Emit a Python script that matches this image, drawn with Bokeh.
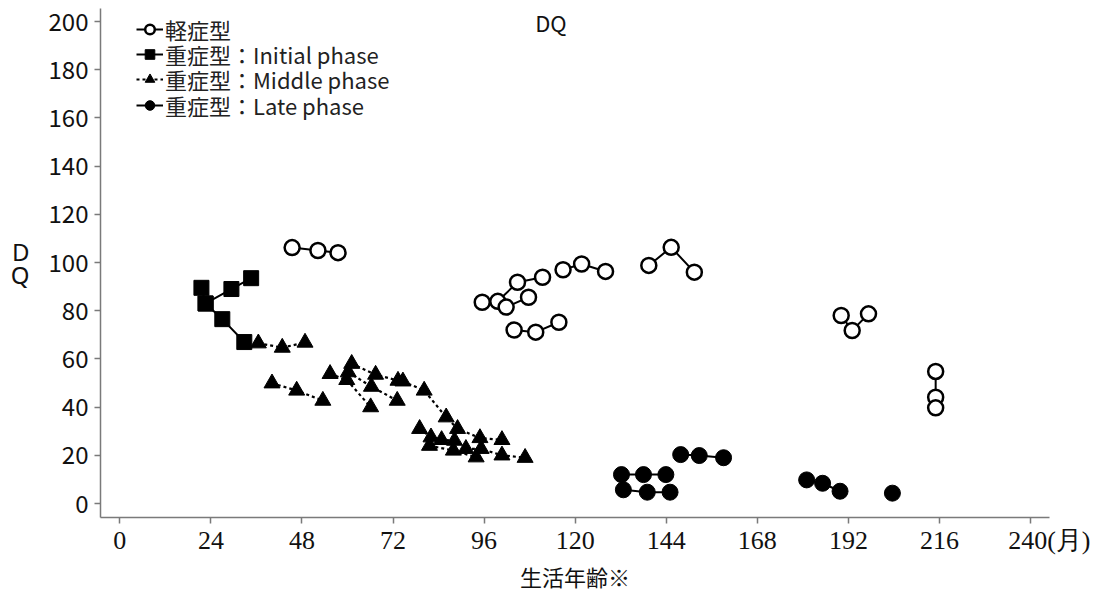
from bokeh.plotting import figure
from bokeh.models import Legend, LegendItem, Label, FixedTicker, Range1d
from bokeh.embed import file_html
from bokeh.resources import INLINE

FONT = "Noto Sans CJK JP"
NARROW = "Liberation Sans Narrow"

x_ticks = [0, 24, 48, 72, 96, 120, 144, 168, 192, 216, 240]
y_ticks = [0, 20, 40, 60, 80, 100, 120, 140, 160, 180, 200]
legend_labels = ["軽症型", "重症型：Initial phase", "重症型：Middle phase",
                 "重症型：Late phase"]

# 軽症型 (mild) – each list is one patient
mild_x = [
    [45.4, 52.2, 57.5],
    [95.5, 99.6, 104.8, 111.4],
    [101.8, 107.7],
    [116.8, 121.7, 128.0],
    [139.4, 145.3, 151.4],
    [103.9, 109.6, 115.7],
    [190.1, 193.0, 197.3],
    [215.0, 215.0, 215.0],
]
mild_y = [
    [106.2, 105.0, 104.1],
    [83.5, 83.9, 91.8, 93.9],
    [81.5, 85.6],
    [97.0, 99.4, 96.3],
    [98.8, 106.3, 96.0],
    [72.0, 71.1, 75.2],
    [78.0, 71.8, 78.7],
    [54.8, 44.1, 39.7],
]

# 重症型 Initial phase
init_x = [[21.5, 22.6, 27.0, 32.8], [22.6, 29.4, 34.6]]
init_y = [[89.5, 83.0, 76.5, 67.0], [83.0, 89.0, 93.5]]

# 重症型 Middle phase
mid_x = [
    [36.5, 42.8, 48.8],
    [40.1, 46.6, 53.5],
    [61.1, 67.4, 73.3],
    [60.2, 66.3, 73.1],
    [55.4, 59.8, 66.1],
    [74.6, 80.2, 86.0, 89.0, 94.9, 100.7],
    [79.0, 82.0, 84.8, 88.2],
    [81.6, 87.9, 93.9],
    [91.2, 95.2, 100.7, 106.8],
]
mid_y = [
    [66.5, 64.7, 66.8],
    [49.9, 46.9, 42.7],
    [58.0, 53.5, 51.0],
    [54.5, 48.5, 42.7],
    [53.8, 51.3, 40.0],
    [50.7, 46.9, 35.8, 31.0, 27.2, 26.4],
    [31.0, 27.5, 26.4, 26.1],
    [24.0, 22.0, 19.2],
    [22.7, 22.7, 20.0, 19.0],
]

# 重症型 Late phase
late_x = [
    [132.2, 138.0, 143.9],
    [132.7, 139.0, 145.0],
    [147.8, 152.7, 159.1],
    [181.0, 185.2, 189.8],
    [203.6],
]
late_y = [
    [12.0, 12.0, 12.0],
    [5.7, 4.7, 4.7],
    [20.3, 19.9, 19.0],
    [9.8, 8.4, 5.1],
    [4.3],
]


def flat(ll):
    return [v for l in ll for v in l]


p = figure(width=1090, height=595, output_backend="svg", toolbar_location=None,
           x_range=Range1d(-5.1, 245), y_range=Range1d(-5.8, 205.4),
           min_border_left=100, min_border_right=41, min_border_top=8,
           min_border_bottom=78)
p.outline_line_color = None
p.xgrid.visible = False
p.ygrid.visible = False
p.background_fill_color = "white"

for ax in (p.xaxis[0], p.yaxis[0]):
    ax.axis_line_color = "#7a7a7a"
    ax.axis_line_width = 1.5
    ax.major_tick_line_color = "#7a7a7a"
    ax.major_tick_line_width = 1.5
    ax.major_tick_out = 6
    ax.major_tick_in = 0
    ax.minor_tick_line_color = None
    ax.major_label_text_color = "#111111"
    ax.axis_label_text_font_style = "normal"
    ax.axis_label_text_color = "#111111"

p.xaxis.ticker = FixedTicker(ticks=x_ticks)
p.yaxis.ticker = FixedTicker(ticks=y_ticks)
p.xaxis.major_label_overrides = {240: "\u2007\u2007\u2007\u2009240(月)"}
p.xaxis.major_label_text_font = NARROW
p.xaxis.major_label_text_font_size = "26px"
p.xaxis.major_label_standoff = 2
p.yaxis.major_label_text_font = FONT
p.yaxis.major_label_text_font_size = "24px"
p.yaxis.major_label_standoff = 6

p.xaxis.axis_label = "生活年齢※"
p.xaxis.axis_label_text_font = FONT
p.xaxis.axis_label_text_font_size = "22px"
p.xaxis.axis_label_standoff = 2
p.yaxis.axis_label = "D\nQ"
p.yaxis.axis_label_text_font = "Noto Sans"
p.yaxis.axis_label_text_font_size = "24px"
p.yaxis.axis_label_text_line_height = 0.7
p.yaxis.axis_label_orientation = "horizontal"
p.yaxis.axis_label_standoff = 16

# mild
r_mild_l = p.multi_line(mild_x, mild_y, line_color="black", line_width=2)
r_mild_m = p.scatter(flat(mild_x), flat(mild_y), marker="circle", size=15,
                     fill_color="white", line_color="black", line_width=2.5)
# initial
r_init_l = p.multi_line(init_x, init_y, line_color="black", line_width=2)
r_init_m = p.scatter(flat(init_x), flat(init_y), marker="square", size=15,
                     fill_color="black", line_color="black")
# middle
r_mid_l = p.multi_line(mid_x, mid_y, line_color="black", line_width=2.2,
                       line_dash="3 3")
r_mid_m = p.scatter(flat(mid_x), flat(mid_y), marker="triangle", size=16,
                    fill_color="black", line_color="black")
# late
r_late_l = p.multi_line(late_x, late_y, line_color="black", line_width=2)
r_late_m = p.scatter(flat(late_x), flat(late_y), marker="circle", size=16,
                     fill_color="black", line_color="black")

renderer_pairs = [(r_mild_l, r_mild_m), (r_init_l, r_init_m),
                  (r_mid_l, r_mid_m), (r_late_l, r_late_m)]
legend_y = [472, 447, 422, 396]
for lab, rends, ly in zip(legend_labels, renderer_pairs, legend_y):
    lg = Legend(items=[LegendItem(label=lab, renderers=list(rends))],
                location=(36, ly))
    lg.label_text_font = FONT
    lg.label_text_font_size = "22px"
    lg.label_text_color = "#222222"
    lg.glyph_width = 27
    lg.glyph_height = 24
    lg.label_height = 24
    lg.spacing = 0
    lg.padding = 0
    lg.margin = 0
    lg.label_standoff = 2
    lg.border_line_color = None
    lg.background_fill_alpha = 0
    p.add_layout(lg)

p.add_layout(Label(x=113.6, y=199.6, text="DQ", text_font=FONT,
                   text_font_size="22px", text_align="center",
                   text_baseline="middle", text_color="#111111"))

open("out.html", "w").write(file_html(p, INLINE))
